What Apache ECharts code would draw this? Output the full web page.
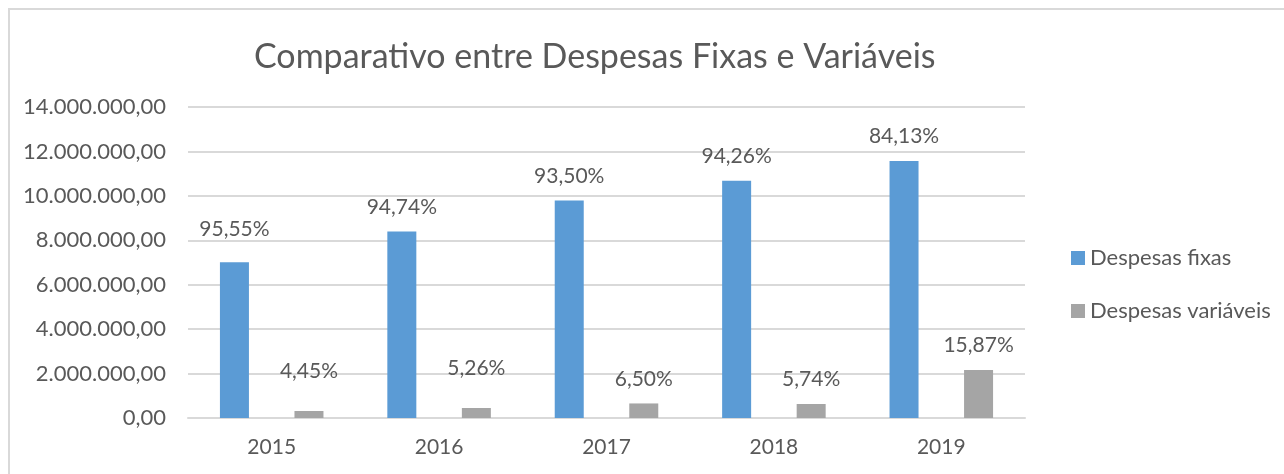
<!DOCTYPE html>
<html>
<head>
<meta charset="utf-8">
<script src="https://cdn.jsdelivr.net/npm/echarts@6/dist/echarts.min.js"></script>
<style>
html,body{margin:0;padding:0;background:#fff;}
#chart{width:1284px;height:474px;}
</style>
</head>
<body>
<div id="chart"></div>
<script>
const titleText = 'Comparativo entre Despesas Fixas e Variáveis';
const categories = ['2015', '2016', '2017', '2018', '2019'];
const seriesNames = ['Despesas fixas', 'Despesas variáveis'];
const fixas = [7010000, 8400000, 9790000, 10680000, 11570000];
const variaveis = [315000, 450000, 655000, 630000, 2160000];
const fixasLabels = ['95,55%', '94,74%', '93,50%', '94,26%', '84,13%'];
const variaveisLabels = ['4,45%', '5,26%', '6,50%', '5,74%', '15,87%'];

const FONT = 'Lato';
const TXT = '#595959';
const fmt = v => {
  const s = Math.round(v).toString().replace(/\B(?=(\d{3})+(?!\d))/g, '.');
  return s + ',00';
};
// label lifts (styling, per Excel manual placement)
const liftF = [23, 14, 14, 14, 14];
const liftV = [29, 29, 14, 14, 14];

function build(vals, labels, lifts) {
  return vals.map((v, i) => ({
    value: v,
    label: { distance: lifts[i], formatter: labels[i] }
  }));
}

const chart = echarts.init(document.getElementById('chart'), null, {renderer: 'canvas'});
chart.setOption({
  backgroundColor: '#fff',
  animation: false,
  textStyle: {fontFamily: FONT},
  graphic: [{
    type: 'rect', silent: true, z: -1,
    shape: {x: 9, y: 9, width: 1300, height: 500},
    style: {fill: 'none', stroke: '#d9d9d9', lineWidth: 2}
  }],
  title: {
    text: titleText, left: 249, top: 35,
    textStyle: {fontFamily: FONT, fontSize: 34, fontWeight: 'normal', color: TXT}
  },
  legend: {
    orient: 'vertical', left: 1066, top: 242,
    itemWidth: 14, itemHeight: 14, itemGap: 31,
    icon: 'rect',
    textStyle: {fontFamily: FONT, fontSize: 22, color: TXT},
    data: seriesNames
  },
  grid: {left: 188, right: 259, top: 107, bottom: 56},
  xAxis: {
    type: 'category', data: categories,
    axisLine: {lineStyle: {color: '#d9d9d9', width: 2}},
    axisTick: {show: false},
    axisLabel: {fontFamily: FONT, fontSize: 21, color: TXT, margin: 19}
  },
  yAxis: {
    type: 'value', min: 0, max: 14000000, interval: 2000000,
    axisLine: {show: false}, axisTick: {show: false},
    splitLine: {lineStyle: {color: '#d9d9d9', width: 2}},
    axisLabel: {fontFamily: FONT, fontSize: 22, color: TXT, margin: 22, formatter: fmt}
  },
  series: [
    {
      name: seriesNames[0], type: 'bar', barWidth: 29, barGap: '157%',
      itemStyle: {color: '#5b9bd5'},
      label: {show: true, position: 'top', fontFamily: FONT, fontSize: 21, color: TXT},
      data: build(fixas, fixasLabels, liftF)
    },
    {
      name: seriesNames[1], type: 'bar', barWidth: 29,
      itemStyle: {color: '#a5a5a5'},
      label: {show: true, position: 'top', fontFamily: FONT, fontSize: 21, color: TXT},
      data: build(variaveis, variaveisLabels, liftV)
    }
  ]
});
</script>
</body>
</html>
